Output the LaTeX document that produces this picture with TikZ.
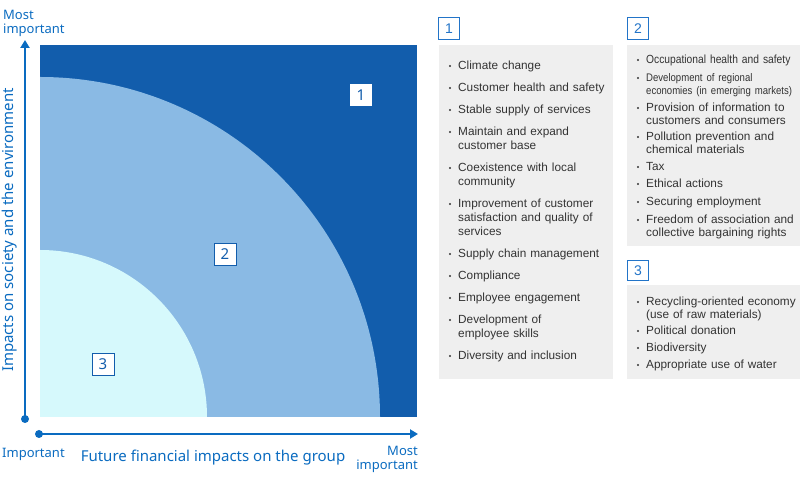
\documentclass[tikz,border=0pt]{standalone}
\usepackage{fontspec}
\setmainfont{Liberation Sans}
\newfontfamily\axisfont{Noto Sans}
\newfontfamily\narrowfont[FakeStretch=0.87]{Liberation Sans}
\usepackage{tikz}
\usetikzlibrary{arrows.meta,positioning}
\definecolor{zoneone}{HTML}{125DAC}
\definecolor{zonetwo}{HTML}{8ABAE4}
\definecolor{zonethree}{HTML}{D6F9FC}
\definecolor{axisblue}{HTML}{0A6BC0}
\definecolor{tagblue}{HTML}{2274C8}
\definecolor{panelgray}{HTML}{EFEFEF}
\definecolor{itemgray}{HTML}{333333}
\tikzset{
  axis/.style={draw=axisblue,line width=2.4pt},
  axdot/.style={circle,fill=axisblue,inner sep=0pt,minimum size=8pt},
  axlabel/.style={text=axisblue,inner sep=0pt,font=\axisfont\fontsize{13}{14}\selectfont},
  zonetag/.style={draw=zoneone,fill=white,text=zoneone,minimum size=22pt,inner sep=0pt,
                  font=\axisfont\fontsize{15}{15}\selectfont},
  listtag/.style={draw=tagblue,line width=1pt,fill=white,text=tagblue,anchor=north west,
                  minimum width=21pt,minimum height=22pt,inner sep=0pt,font=\fontsize{14}{14}\selectfont},
  panel/.style={fill=panelgray},
  item/.style={anchor=base west,inner sep=0pt,text width=165pt,align=left,text=itemgray,
               font=\fontsize{11.8}{14}\selectfont},
  itemb/.style={item,font=\fontsize{11.8}{12.5}\selectfont},
  bul/.style={circle,fill=itemgray,inner sep=0pt,minimum size=2.2pt},
}
\begin{document}
\begin{tikzpicture}[x=1pt,y=1pt]
  \useasboundingbox (0,0) rectangle (800,481);
  % matrix
  \fill[zoneone] (40,64) rectangle (417,436);
  \fill[zonetwo] (40,64) -- (380,64) arc[start angle=0,end angle=90,radius=340] -- cycle;
  \fill[zonethree] (40,64) -- (207,64) arc[start angle=0,end angle=90,radius=167] -- cycle;
  \node[zonetag,draw=none] (z1) at (361,386) {1};
  \node[zonetag] (z2) at (225,227) {2};
  \node[zonetag] (z3) at (103,117) {3};
  % axes
  \node[axdot] (ydot) at (25,62) {};
  \coordinate (ytip) at (25,441);
  \draw[axis,-{Triangle[length=8pt,width=9pt]}] (ydot.center) -- (ytip);
  \node[axdot] (xdot) at (39,47) {};
  \coordinate (xtip) at (418,47);
  \draw[axis,-{Triangle[length=8pt,width=9pt]}] (xdot.center) -- (xtip);
  \node[axlabel,align=left,anchor=north west] (ymost) at (3,471) {Most\\important};
  \node[axlabel,anchor=west] (ximp) at (2,27) {Important};
  \node[axlabel,align=right,anchor=north east] (xmost) at (418,35) {Most\\important};
  \node[axlabel,font=\axisfont\fontsize{15}{15}\selectfont] (xname) at (213,23)
    {Future financial impacts on the group};
  \node[axlabel,font=\axisfont\fontsize{15}{15}\selectfont,rotate=90] (yname) at (10,251)
    {Impacts on society and the environment};
  % lists
  \fill[panel] (439,102) rectangle (613,436);
  \fill[panel] (627,235) rectangle (800,436);
  \fill[panel] (627,102) rectangle (800,196);
  \node[listtag] (t1) at (438,464) {1};
  \node[listtag] (t2) at (627,464) {2};
  \node[listtag,minimum height=20pt] (t3) at (627,221) {3};
  \foreach \yy/\txt [count=\i] in {66/Climate change, 88/Customer health and safety,
      110/Stable supply of services, 132/{Maintain and expand\\customer base},
      168/{Coexistence with local\\community},
      204/{Improvement of customer\\satisfaction and quality of\\services},
      254/Supply chain management, 276/Compliance, 298/Employee engagement,
      320/{Development of\\employee skills}, 356/Diversity and inclusion}{
    \node[item] (a\i) at (458,477-\yy) {\txt};
    \node[bul] at ([xshift=-8pt,yshift=4pt]a\i.base west) {};
  }
  \foreach \yy/\txt [count=\i] in {60/{\narrowfont Occupational health and safety},
      78/{\narrowfont\fontsize{11}{12.5}\selectfont Development of regional\\economies (in emerging markets)},
      108/{Provision of information to\\customers and consumers},
      137/{Pollution prevention and\\chemical materials},
      167/Tax, 184/Ethical actions, 202/Securing employment,
      220/{Freedom of association and\\collective bargaining rights}}{
    \node[itemb] (b\i) at (646,477-\yy) {\txt};
    \node[bul] at ([xshift=-8pt,yshift=4pt]b\i.base west) {};
  }
  \foreach \yy/\txt [count=\i] in {302/{Recycling-oriented economy\\(use of raw materials)},
      331/Political donation, 348/Biodiversity, 365/Appropriate use of water}{
    \node[itemb] (c\i) at (646,477-\yy) {\txt};
    \node[bul] at ([xshift=-8pt,yshift=4pt]c\i.base west) {};
  }
\end{tikzpicture}
\end{document}
